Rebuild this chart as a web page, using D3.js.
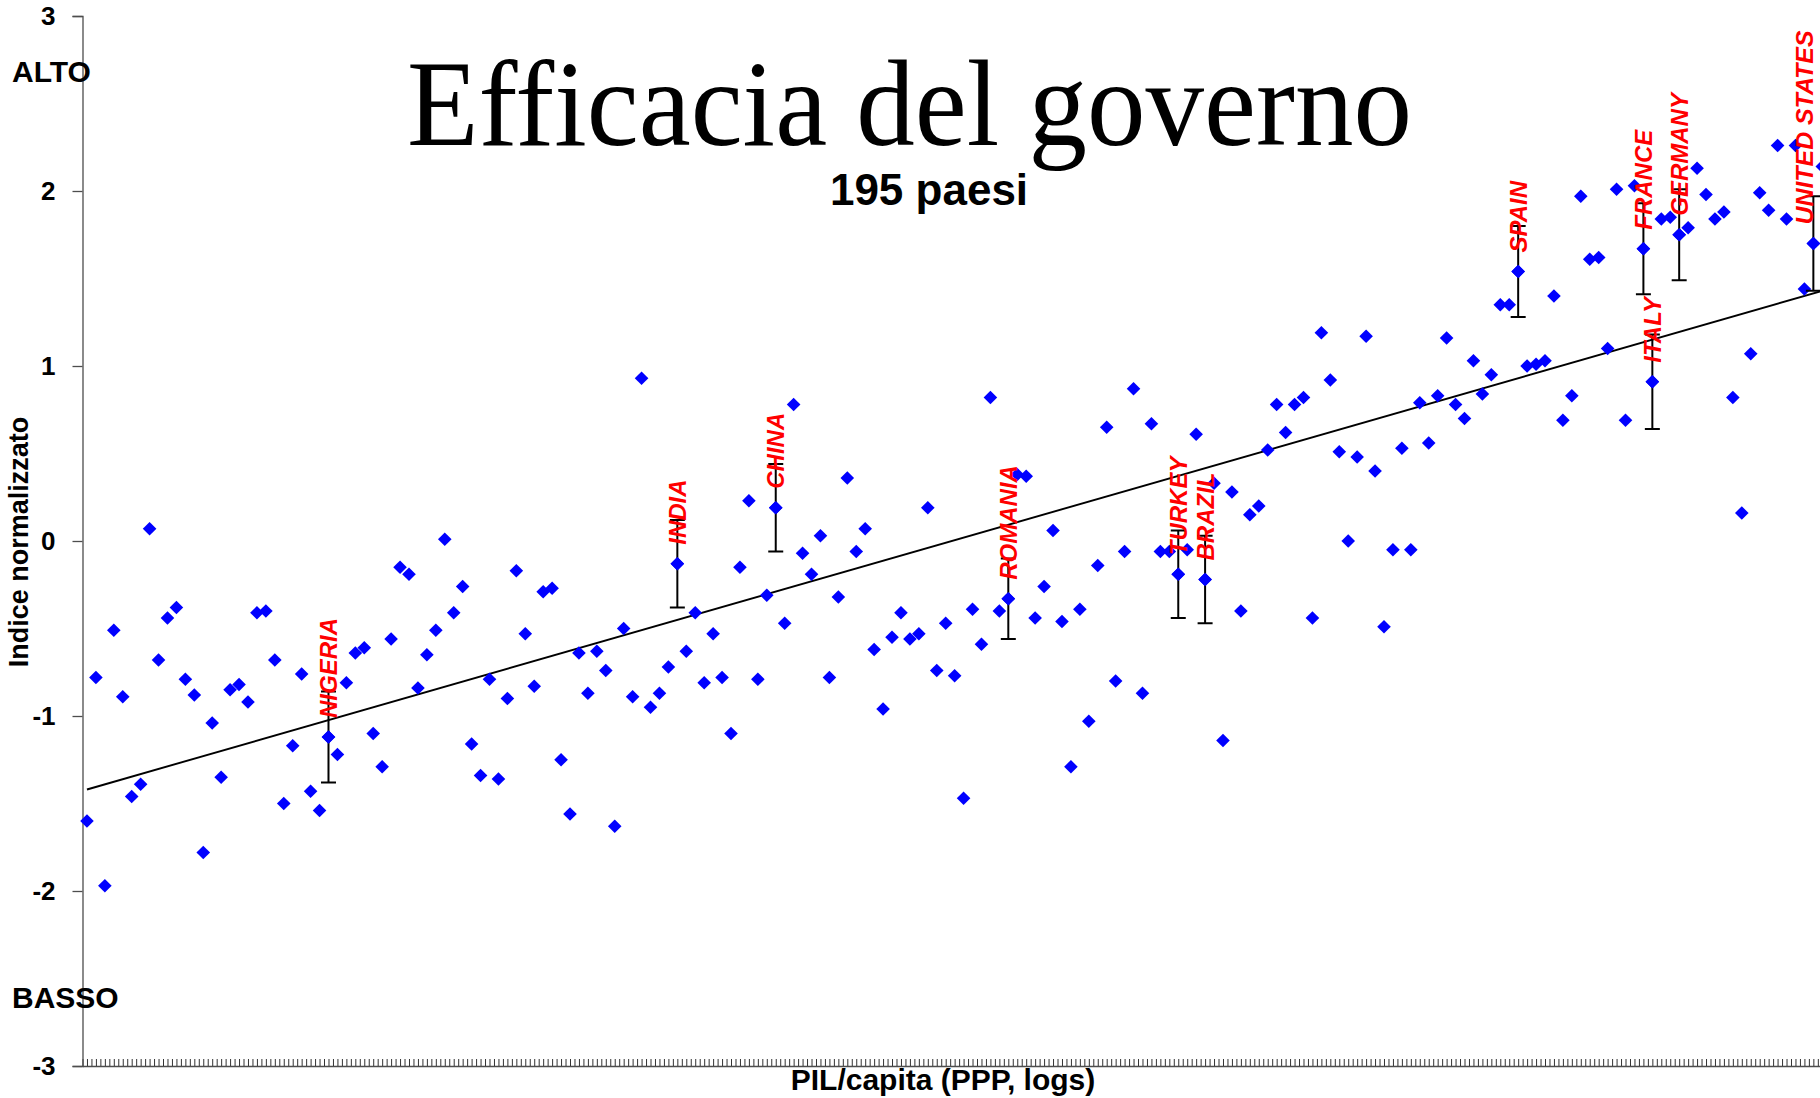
<!DOCTYPE html>
<html>
<head>
<meta charset="utf-8">
<script src="https://cdn.jsdelivr.net/npm/d3@7"></script>
<style>
  html, body { margin: 0; padding: 0; background: #fff; }
  svg { display: block; }
</style>
</head>
<body>
<svg id="chart" width="1820" height="1098"></svg>
<script>
// ---------------- DATA ----------------
// Government effectiveness index for 195 countries, ordered by GDP per capita (PPP, logs)
const govEffectiveness = [
  -1.60, -0.78, -1.97, -0.51, -0.89, -1.46, -1.39,  0.07, -0.68, -0.44,
  -0.38, -0.79, -0.88, -1.78, -1.04, -1.35, -0.85, -0.82, -0.92, -0.41,
  -0.40, -0.68, -1.50, -1.17, -0.76, -1.43, -1.54, -1.12, -1.22, -0.81,
  -0.64, -0.61, -1.10, -1.29, -0.56, -0.15, -0.19, -0.84, -0.65, -0.51,
   0.01, -0.41, -0.26, -1.16, -1.34, -0.79, -1.36, -0.90, -0.17, -0.53,
  -0.83, -0.29, -0.27, -1.25, -1.56, -0.64, -0.87, -0.63, -0.74, -1.63,
  -0.50, -0.89,  0.93, -0.95, -0.87, -0.72, -0.13, -0.63, -0.41, -0.81,
  -0.53, -0.78, -1.10, -0.15,  0.23, -0.79, -0.31,  0.19, -0.47,  0.78,
  -0.07, -0.19,  0.03, -0.78, -0.32,  0.36, -0.06,  0.07, -0.62, -0.96,
  -0.55, -0.41, -0.56, -0.53,  0.19, -0.74, -0.47, -0.77, -1.47, -0.39,
  -0.59,  0.82, -0.40, -0.33,  0.38,  0.37, -0.44, -0.26,  0.06, -0.46,
  -1.29, -0.39, -1.03, -0.14,  0.65, -0.80, -0.06,  0.87, -0.87,  0.67,
  -0.06, -0.06, -0.19, -0.05,  0.61, -0.22,  0.33, -1.14,  0.28, -0.40,
   0.15,  0.20,  0.52,  0.78,  0.62,  0.78,  0.82, -0.44,  1.19,  0.92,
   0.51,  0.00,  0.48,  1.17,  0.40, -0.49, -0.05,  0.53, -0.05,  0.79,
   0.56,  0.83,  1.16,  0.78,  0.70,  1.03,  0.84,  0.95,  1.35,  1.35,
   1.54,  1.00,  1.01,  1.03,  1.40,  0.69,  0.83,  1.97,  1.61,  1.62,
   1.10,  2.01,  0.69,  2.03,  1.67,  0.91,  1.84,  1.85,  1.75,  1.79,
   2.13,  1.98,  1.84,  1.88,  0.82,  0.16,  1.07,  1.99,  1.89,  2.26,
   1.84,  2.26,  1.44,  1.70,  2.14
];
// categories: GDP-per-capita rank of each country (1 = poorest)
const ranks = govEffectiveness.map((_, i) => i + 1);

// highlighted countries, their rank and the half-width of their confidence bar
const labeledCountries = ["NIGERIA", "INDIA", "CHINA", "ROMANIA", "TURKEY", "BRAZIL",
                          "SPAIN", "FRANCE", "ITALY", "GERMANY", "UNITED STATES"];
const labeledRanks     = [28, 67, 78, 104, 123, 126, 161, 175, 176, 179, 194];
const errorMargins     = [0.26, 0.25, 0.25, 0.23, 0.25, 0.25, 0.26, 0.26, 0.27, 0.26, 0.27];

// trend line values at the first and last rank
const trendRanks  = [1, 195];
const trendValues = [-1.42, 1.43];

const yTicks = [-3, -2, -1, 0, 1, 2, 3];

const title = "Efficacia del governo";
const subtitle = "195 paesi";
const xTitle = "PIL/capita (PPP, logs)";
const yTitle = "Indice normalizzato";
const highLabel = "ALTO";
const lowLabel = "BASSO";

// ---------------- LAYOUT ----------------
const W = 1820, H = 1098;
const plotLeft = 82.5, bandW = 8.945;
const plotRight = plotLeft + ranks.length * bandW;
const plotTop = 16, plotBottom = 1066;
const labelMaxX = 1804;   // data labels are kept inside the visible chart area
const sans = "'Liberation Sans', Arial, Helvetica, sans-serif";
const serif = "'Liberation Serif', 'Times New Roman', Times, serif";

const svg = d3.select("#chart");
svg.append("rect").attr("width", W).attr("height", H).attr("fill", "#fff");

const x = d3.scaleBand().domain(ranks).range([plotLeft, plotRight]).padding(0);
const xc = r => x(r) + x.bandwidth() / 2;
const xTickScale = d3.scaleLinear().domain([0, ranks.length]).range([plotLeft, plotRight]);
const y = d3.scaleLinear().domain([-3, 3]).range([plotBottom, plotTop]);

// X axis (ticks inside, every half category)
const xAxis = d3.axisBottom(xTickScale)
  .tickValues(d3.range(0, ranks.length + 0.01, 0.5))
  .tickSizeInner(-7).tickSizeOuter(0).tickFormat("");
const gx = svg.append("g").attr("transform", `translate(0,${plotBottom})`).call(xAxis);
gx.select(".domain").attr("stroke", "#4d4d4d").attr("stroke-width", 1.3);
gx.selectAll(".tick line").attr("stroke", "#333").attr("stroke-width", 1);

// Y axis
const yAxis = d3.axisLeft(y).tickValues(yTicks).tickSize(10).tickPadding(17)
  .tickFormat(d => String(d));
const gy = svg.append("g").attr("transform", `translate(${plotLeft},0)`).call(yAxis);
gy.select(".domain").attr("stroke", "#4d4d4d").attr("stroke-width", 1.3);
gy.selectAll(".tick line").attr("stroke", "#4d4d4d").attr("stroke-width", 1.3);
gy.selectAll(".tick text")
  .attr("font-family", sans).attr("font-weight", "bold").attr("font-size", 26)
  .attr("fill", "#000");

// Trend line
const line = d3.line().x(d => xc(d[0])).y(d => y(d[1]));
svg.append("path")
  .datum(trendRanks.map((r, i) => [r, trendValues[i]]))
  .attr("d", line).attr("fill", "none").attr("stroke", "#000").attr("stroke-width", 1.9);

// Points (diamonds)
const diamond = {
  draw(ctx, size) {
    const r = Math.sqrt(size / 2);
    ctx.moveTo(0, -r); ctx.lineTo(r, 0); ctx.lineTo(0, r); ctx.lineTo(-r, 0); ctx.closePath();
  }
};
const sym = d3.symbol().type(diamond).size(2 * 6.8 * 6.8);
svg.append("g").selectAll("path")
  .data(ranks.map((r, i) => [r, govEffectiveness[i]]))
  .join("path")
  .attr("transform", d => `translate(${xc(d[0])},${y(d[1])})`)
  .attr("d", sym)
  .attr("fill", "#0000ff");

// Error bars for highlighted countries
const hl = labeledCountries.map((name, i) => ({
  name, rank: labeledRanks[i], value: govEffectiveness[labeledRanks[i] - 1], err: errorMargins[i]
}));
const eb = svg.append("g").attr("stroke", "#000").attr("stroke-width", 2);
hl.forEach(d => {
  const cx = xc(d.rank);
  eb.append("line").attr("x1", cx).attr("x2", cx)
    .attr("y1", y(d.value + d.err)).attr("y2", y(d.value - d.err));
  [d.value + d.err, d.value - d.err].forEach(v => {
    eb.append("line").attr("x1", cx - 7.5).attr("x2", cx + 7.5)
      .attr("y1", y(v)).attr("y2", y(v));
  });
});
// redraw highlighted diamonds on top of bars
svg.append("g").selectAll("path").data(hl).join("path")
  .attr("transform", d => `translate(${xc(d.rank)},${y(d.value)})`)
  .attr("d", sym).attr("fill", "#0000ff");

// Country labels
const labels = svg.append("g").selectAll("text").data(hl).join("text")
  .attr("transform", d => `translate(${Math.min(xc(d.rank), labelMaxX)},${y(d.value) - 19}) rotate(-90)`)
  .attr("dy", "0.36em")
  .attr("text-anchor", "start")
  .attr("font-family", sans).attr("font-weight", "bold").attr("font-style", "italic")
  .attr("font-size", 24).attr("fill", "#ff0000")
  .text(d => d.name);
// the label squeezed against the right border is slightly condensed
labels.filter(d => xc(d.rank) > labelMaxX)
  .attr("textLength", 194).attr("lengthAdjust", "spacingAndGlyphs");

// Titles
svg.append("text").attr("x", 909.5).attr("y", 145).attr("text-anchor", "middle")
  .attr("font-family", serif).attr("font-size", 122).attr("fill", "#000")
  .attr("textLength", 1005).attr("lengthAdjust", "spacingAndGlyphs")
  .text(title);
svg.append("text").attr("x", 929).attr("y", 205).attr("text-anchor", "middle")
  .attr("font-family", sans).attr("font-weight", "bold").attr("font-size", 44)
  .attr("fill", "#000").text(subtitle);

svg.append("text").attr("x", 943).attr("y", 1090).attr("text-anchor", "middle")
  .attr("font-family", sans).attr("font-weight", "bold").attr("font-size", 30)
  .attr("fill", "#000").text(xTitle);

svg.append("text").attr("transform", "translate(28,542) rotate(-90)")
  .attr("text-anchor", "middle")
  .attr("font-family", sans).attr("font-weight", "bold").attr("font-size", 27)
  .attr("fill", "#000").text(yTitle);

svg.append("text").attr("x", 12).attr("y", 82)
  .attr("font-family", sans).attr("font-weight", "bold").attr("font-size", 30)
  .attr("fill", "#000").text(highLabel);
svg.append("text").attr("x", 12).attr("y", 1008)
  .attr("font-family", sans).attr("font-weight", "bold").attr("font-size", 30)
  .attr("fill", "#000").text(lowLabel);
</script>
</body>
</html>
